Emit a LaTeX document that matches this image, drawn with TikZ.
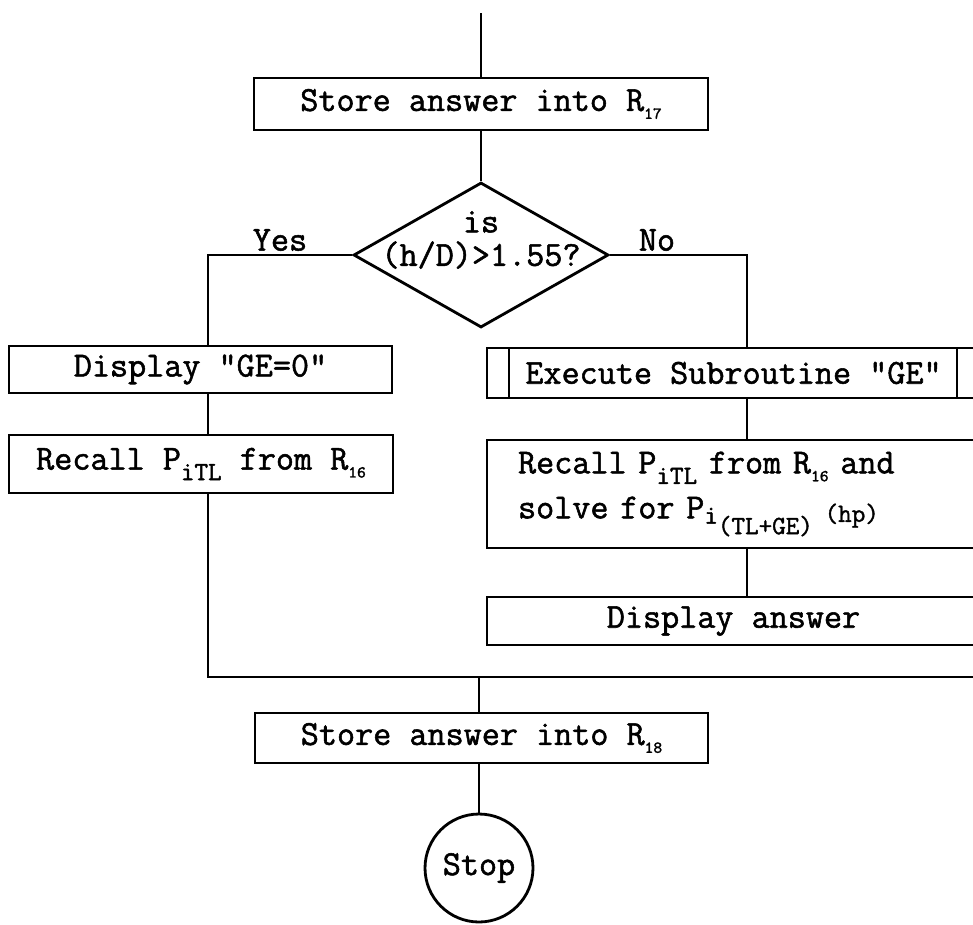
\documentclass[tikz,border=0pt]{standalone}
\usepackage{fontspec}
\setmainfont{Latin Modern Mono}[FakeBold=1.5]
\usetikzlibrary{shapes.geometric}

\newcommand{\regno}[1]{\raisebox{-4.5pt}{\fontsize{9.5}{9.5}\selectfont #1}}
\newcommand{\lowsub}[2]{\raisebox{#1}{\fontsize{15}{15}\selectfont #2}}

\tikzset{
  box/.style={draw, rectangle, inner sep=0pt, line width=1.6pt},
  subbox/.style={box, path picture={
      \draw[line width=1.6pt] ([xshift=0.44cm]path picture bounding box.north west) -- ([xshift=0.44cm]path picture bounding box.south west);
      \draw[line width=1.6pt] ([xshift=-0.46cm]path picture bounding box.north east) -- ([xshift=-0.46cm]path picture bounding box.south east);}},
  decision/.style={draw, diamond, inner sep=0pt, line width=1.6pt},
  stopnode/.style={draw, circle, inner sep=0pt, line width=1.6pt, minimum size=2.16cm}
}

\begin{document}
\begin{tikzpicture}[x=0.02cm, y=-0.02cm, line width=1.6pt,
    every node/.append style={font=\fontsize{20}{25.6}\selectfont}]
  \useasboundingbox (0,0) rectangle (973,924);
  \clip (0,0) rectangle (973,924);
  % top box and the decision
  \coordinate (entry) at (481,13);
  \node[box, minimum width=9.08cm, minimum height=1.04cm] (store17) at (481,104) {Store answer into R\regno{17}};
  \node[decision, minimum width=5.1cm, minimum height=2.9cm] (dec) at (481,255) {};
  \node[align=center, font=\fontsize{20}{19}\selectfont] (dectext) at (481,240) {is\\(h/D)>1.55?};
  \node (yes) at (280,240) {Yes};
  \node (no) at (657,240) {No};
  % left branch
  \node[box, minimum width=7.66cm, minimum height=0.94cm] (ldisp) at (200.5,369.5) {Display \textquotedbl GE=0\textquotedbl};
  \node[box, minimum width=7.68cm, minimum height=1.16cm] (lrecall) at (201,464) {Recall P\lowsub{-6pt}{iTL} from R\regno{16}};
  % right branch
  \node[subbox, minimum width=9.86cm, minimum height=1.0cm] (exec) at (733.5,373) {Execute Subroutine \textquotedbl GE\textquotedbl};
  \node[box, minimum height=2.16cm, text width=9cm, inner xsep=0.62cm, align=left] (rrecall) at (743,494)
    {Recall P\lowsub{-6pt}{iTL} from R\regno{16} and\\solve for P\lowsub{-3pt}{i}\lowsub{-9pt}{(TL+GE)} \lowsub{-2pt}{(hp)}};
  \node[box, minimum width=9.86cm, minimum height=0.96cm] (rdisp) at (733.5,621) {Display answer};
  % bottom box and stop
  \node[box, minimum width=9.06cm, minimum height=1.0cm] (store18) at (481.5,738) {Store answer into R\regno{18}};
  \node[stopnode] (stop) at (479,868) {Stop};

  % connectors
  \coordinate (ycol) at (208,255);
  \coordinate (ncol) at (747,255);
  \coordinate (join) at (479,677);
  \coordinate (jend) at (980,677);
  \draw (entry) -- (store17.north);
  \draw (store17.south) -- (dec.north);
  % yes side
  \draw (dec.west) -- (ycol) -- (ycol |- ldisp.north);
  \draw (ldisp.south -| ycol) -- (lrecall.north -| ycol);
  \draw (lrecall.south -| ycol) -- (ycol |- join) -- (jend);
  % no side
  \draw (dec.east) -- (ncol) -- (ncol |- exec.north);
  \draw (exec.south -| ncol) -- (rrecall.north -| ncol);
  \draw (rrecall.south -| ncol) -- (rdisp.north -| ncol);
  % join and stop
  \draw (join) -- (join |- store18.north);
  \draw (store18.south -| stop) -- (stop.north);
\end{tikzpicture}
\end{document}
